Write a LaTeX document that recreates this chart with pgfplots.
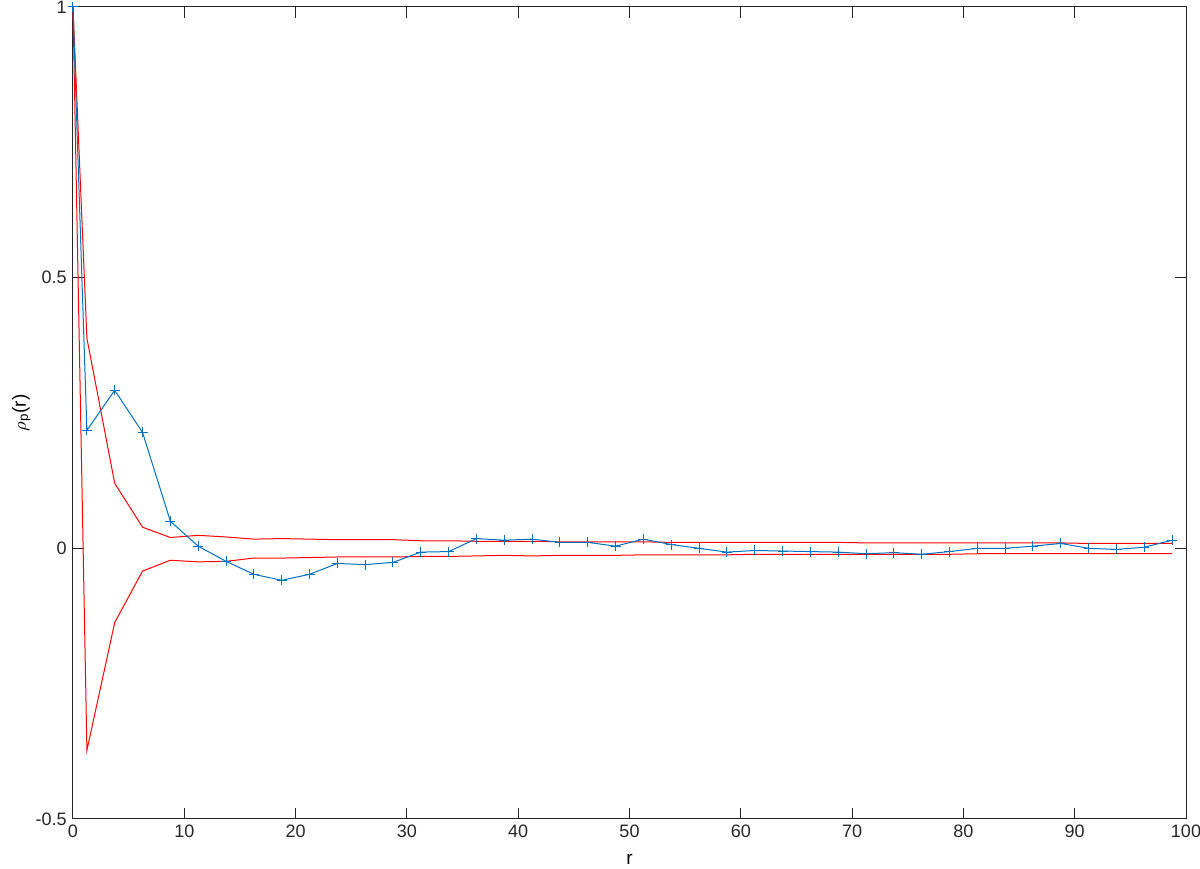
\documentclass[border=0pt]{standalone}
\usepackage{pgfplots}
\pgfplotsset{compat=1.18}
\usepackage{fontspec}
\setmainfont{Liberation Sans}
\definecolor{mblue}{rgb}{0,0.447,0.741}
\definecolor{axgray}{rgb}{0.15,0.15,0.15}
\begin{document}
\begin{tikzpicture}
\fontsize{9}{10}\selectfont
\begin{axis}[
  at={(0,0)}, anchor=south west,
  scale only axis, width=556.5pt, height=406pt,
  xmin=0, xmax=100, ymin=-0.5, ymax=1,
  xtick={0,10,...,100}, ytick={-0.5,0,0.5,1},
  yticklabels={-0.5,0,0.5,1},
  tick align=inside, major tick length=5.5pt,
  axis line style={axgray, line width=0.5pt},
  every tick/.style={axgray, line width=0.5pt},
  tick label style={font=\fontsize{9}{10}\selectfont, text=axgray},
  /pgf/number format/assume math mode=true,
  xlabel={r}, ylabel={$\rho_{\mathrm{p}}$(r)},
  label style={font=\fontsize{9.5}{10}\selectfont},
  xlabel style={at={(axis description cs:0.5,0)}, anchor=north, yshift=-14.5pt},
  ylabel style={at={(axis description cs:0,0.5)}, anchor=south, yshift=18pt},
  clip=false,
]
\addplot[red, line width=0.5pt] coordinates {
(0,1) (1.25,0.388) (3.75,0.12) (6.25,0.039) (8.75,0.02) (11.25,0.024) (13.75,0.021)
(16.25,0.017) (18.75,0.018) (21.25,0.017) (23.75,0.016) (26.25,0.016) (28.75,0.016)
(31.25,0.014) (33.75,0.014) (36.25,0.013) (38.75,0.013) (41.25,0.013) (43.75,0.012)
(46.25,0.012) (48.75,0.012) (51.25,0.012) (53.75,0.011) (56.25,0.011) (58.75,0.011)
(61.25,0.011) (63.75,0.011) (66.25,0.011) (68.75,0.011) (71.25,0.010) (73.75,0.010)
(76.25,0.010) (78.75,0.010) (81.25,0.010) (83.75,0.010) (86.25,0.010) (88.75,0.010)
(91.25,0.009) (93.75,0.009) (96.25,0.009) (98.75,0.009)};
\addplot[red, line width=0.5pt] coordinates {
(0,1) (1.25,-0.373) (3.75,-0.137) (6.25,-0.042) (8.75,-0.022) (11.25,-0.025) (13.75,-0.024)
(16.25,-0.018) (18.75,-0.018) (21.25,-0.017) (23.75,-0.016) (26.25,-0.016) (28.75,-0.016)
(31.25,-0.015) (33.75,-0.015) (36.25,-0.014) (38.75,-0.013) (41.25,-0.014) (43.75,-0.013)
(46.25,-0.013) (48.75,-0.013) (51.25,-0.012) (53.75,-0.012) (56.25,-0.012) (58.75,-0.012)
(61.25,-0.011) (63.75,-0.011) (66.25,-0.011) (68.75,-0.011) (71.25,-0.011) (73.75,-0.011)
(76.25,-0.011) (78.75,-0.011) (81.25,-0.010) (83.75,-0.010) (86.25,-0.010) (88.75,-0.010)
(91.25,-0.010) (93.75,-0.010) (96.25,-0.010) (98.75,-0.010)};
\addplot[mblue, line width=0.5pt, mark=+, mark size=2.5pt, mark options={line width=0.5pt}] coordinates {
(0,1) (1.25,0.218) (3.75,0.292) (6.25,0.214) (8.75,0.05) (11.25,0.004) (13.75,-0.024)
(16.25,-0.048) (18.75,-0.059) (21.25,-0.048) (23.75,-0.028) (26.25,-0.030) (28.75,-0.026)
(31.25,-0.007) (33.75,-0.006) (36.25,0.018) (38.75,0.015) (41.25,0.017) (43.75,0.011)
(46.25,0.011) (48.75,0.004) (51.25,0.017) (53.75,0.007) (56.25,0.0) (58.75,-0.007)
(61.25,-0.004) (63.75,-0.005) (66.25,-0.006) (68.75,-0.007) (71.25,-0.010) (73.75,-0.008)
(76.25,-0.011) (78.75,-0.006) (81.25,0.0) (83.75,0.0) (86.25,0.004) (88.75,0.009)
(91.25,0.0) (93.75,-0.002) (96.25,0.002) (98.75,0.015)};
\end{axis}
\pgfresetboundingbox
\path[use as bounding box] (-36.5pt,-24.5pt) rectangle (563.5pt,409.5pt);
\end{tikzpicture}
\end{document}
